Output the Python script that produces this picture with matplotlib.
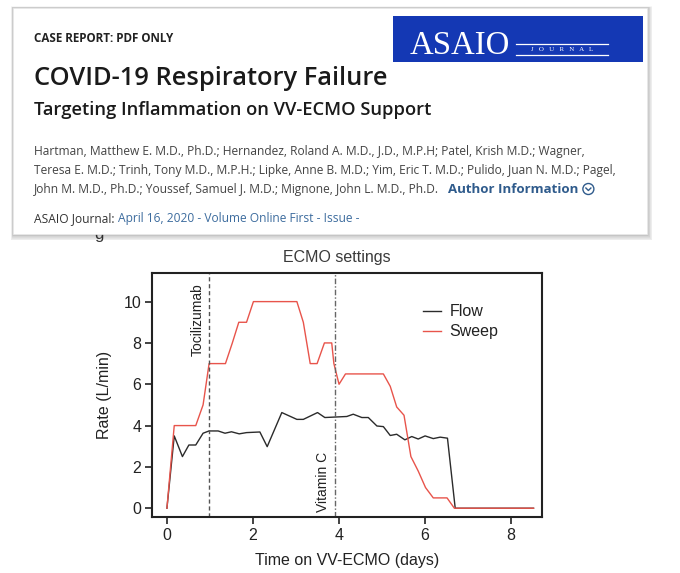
import matplotlib.pyplot as plt
from matplotlib.patches import Rectangle, Circle

# ECMO settings
flow_t = [0, 0.17, 0.36, 0.51, 0.67, 0.84, 0.98, 1.19, 1.35, 1.50, 1.68, 1.85, 2.16,
          2.33, 2.67, 3.02, 3.17, 3.50, 3.67, 4.18, 4.33, 4.53, 4.68, 4.88, 5.03,
          5.19, 5.34, 5.53, 5.69, 5.84, 6.00, 6.19, 6.35, 6.52, 6.70, 8.52]
flow_v = [0, 3.5, 2.5, 3.06, 3.06, 3.63, 3.74, 3.74, 3.63, 3.70, 3.60, 3.66, 3.69,
          2.98, 4.63, 4.30, 4.30, 4.63, 4.39, 4.44, 4.55, 4.39, 4.39, 3.98, 3.95,
          3.52, 3.58, 3.31, 3.47, 3.35, 3.50, 3.37, 3.44, 3.39, 0, 0]

sweep_t = [0, 0.17, 0.67, 0.84, 0.98, 1.36, 1.52, 1.67, 1.85, 2.01, 3.02, 3.17, 3.33,
           3.49, 3.66, 3.83, 3.88, 4.00, 4.15, 5.03, 5.19, 5.34, 5.51, 5.67, 5.84,
           6.01, 6.19, 6.51, 6.68, 8.52]
sweep_v = [0, 4, 4, 5, 7, 7, 8, 9, 9, 10, 10, 9, 7,
           7, 8, 8, 7, 6, 6.5, 6.5, 5.9, 4.9, 4.5, 2.5, 1.8,
           1.0, 0.5, 0.5, 0, 0]

events = ['Tocilizumab', 'Vitamin C']
event_t = [0.98, 3.91]

x_ticks = [0, 2, 4, 6, 8]
y_ticks = [0, 2, 4, 6, 8, 10]

# header card text
kicker = 'CASE REPORT: PDF ONLY'
title = 'COVID-19 Respiratory Failure'
subtitle = 'Targeting Inflammation on VV-ECMO Support'
authors = ['Hartman, Matthew E. M.D., Ph.D.; Hernandez, Roland A. M.D., J.D., M.P.H; Patel, Krish M.D.; Wagner,',
           'Teresa E. M.D.; Trinh, Tony M.D., M.P.H.; Lipke, Anne B. M.D.; Yim, Eric T. M.D.; Pulido, Juan N. M.D.; Pagel,',
           'John M. M.D., Ph.D.; Youssef, Samuel J. M.D.; Mignone, John L. M.D., Ph.D.']

W, H = 680, 573
fig = plt.figure(figsize=(W / 100, H / 100), dpi=100)
fig.patch.set_facecolor('white')

## chart
cfont = 'Liberation Sans'
ax = fig.add_axes([152.3 / W, 1 - 516.7 / H, 389.4 / W, 243.4 / H], zorder=1)
ax.plot(flow_t, flow_v, color='#2b2b2b', lw=1.0, label='Flow')
ax.plot(sweep_t, sweep_v, color='#e8544b', lw=1.0, label='Sweep')
ax.axvline(event_t[0], color='#555555', lw=1.0, ls=(0, (3, 2)))
ax.axvline(event_t[1], color='#666666', lw=1.0, ls=(0, (4, 1.5, 1, 1.5)))
ax.text(0.72, 10.9, events[0], rotation=90, ha='center', va='top', fontsize=10,
        family=cfont, color='#222222')
ax.text(3.63, 2.72, events[1], rotation=90, ha='center', va='top', fontsize=10,
        family=cfont, color='#222222')

ax.set_xlim(-0.34, 8.71)
ax.set_ylim(-0.41, 11.37)
ax.set_xticks(x_ticks)
ax.set_yticks(y_ticks)
for s in ax.spines.values():
    s.set_linewidth(1.5)
    s.set_color('#222222')
ax.tick_params(direction='out', length=5, width=1.2, color='#222222', labelsize=11.5,
               labelcolor='#222222', pad=3)
for lab in ax.get_xticklabels() + ax.get_yticklabels():
    lab.set_family(cfont)
ax.set_xlabel('Time on VV-ECMO (days)', fontsize=11.5, family=cfont, color='#222222', labelpad=7)
ax.set_ylabel('Rate (L/min)', fontsize=11.5, family=cfont, color='#222222', labelpad=8)
fig.text(337 / W, 1 - 258 / H, 'ECMO settings', ha='center', va='center', fontsize=11.5,
         family=cfont, color='#3a3a3a')
leg = ax.legend(loc='upper left', bbox_to_anchor=(0.695, 0.872), frameon=False,
                prop={'family': cfont, 'size': 11.5}, handlelength=1.1, handletextpad=0.55,
                borderaxespad=0, borderpad=0, labelspacing=0.3)
for t in leg.get_texts():
    t.set_color('#222222')

## header card drawn on a pixel-coordinate overlay
ov = fig.add_axes([0, 0, 1, 1], zorder=5)
ov.set_xlim(0, W)
ov.set_ylim(H, 0)
ov.axis('off')
ov.patch.set_alpha(0)

# bit of the figure text that peeks out under the card
ov.text(99, 238.5, 'g', fontsize=12, family=cfont, color='#333333', ha='center', va='baseline', zorder=1)

# soft shadow, heavier along the bottom
for i in range(8):
    d = 8 - i
    ov.add_patch(Rectangle((13 - d * 0.25, 8 - d * 0.2), 634 + d * 0.9, 226 + d * 1.0,
                           facecolor='#303030', edgecolor='none', alpha=0.045, zorder=2))
ov.add_patch(Rectangle((13, 8), 634, 226, facecolor='white', edgecolor='#ececec', lw=0.5, zorder=3))

hfont = 'Open Sans'
renderer = fig.canvas.get_renderer()


def fit(txt, target_w):
    # scale the font so the line spans the same width as in the screenshot
    w = txt.get_window_extent(renderer).width
    txt.set_fontsize(txt.get_fontsize() * target_w / w)
    return txt


def right_end(txt):
    return txt.get_window_extent(renderer).x1


fit(ov.text(34, 42, kicker, fontsize=8, weight='bold', family=hfont, color='#222222', zorder=4), 141)
fit(ov.text(34, 85, title, fontsize=18, weight='semibold', family=hfont, color='#1a1a1a', zorder=4), 354)
fit(ov.text(34, 115, subtitle, fontsize=12, weight='semibold', family=hfont, color='#1a1a1a', zorder=4), 398)

a1 = fit(ov.text(34, 155, authors[0], fontsize=8, family=hfont, color='#444444', zorder=4), 558)
afs = a1.get_fontsize()
ov.text(34, 174, authors[1], fontsize=afs, family=hfont, color='#444444', zorder=4)
a3 = ov.text(34, 193, authors[2], fontsize=afs, family=hfont, color='#444444', zorder=4)
x3 = right_end(a3) + 9
ai = ov.text(x3, 193, 'Author Information', fontsize=afs * 1.1, weight='bold', family=hfont,
             color='#2f5b8c', zorder=4)
xc = right_end(ai) + 10
ov.add_patch(Circle((xc, 189), 5.5, facecolor='none', edgecolor='#2f5b8c', lw=1.0, zorder=4))
ov.plot([xc - 2.5, xc, xc + 2.5], [188, 190.5, 188], color='#2f5b8c', lw=1.0, zorder=4)

j1 = ov.text(34, 222, 'ASAIO Journal: ', fontsize=afs, family=hfont, color='#333333', zorder=4)
ov.text(right_end(j1), 222, 'April 16, 2020 - Volume Online First - Issue -', fontsize=afs,
        family=hfont, color='#3d6c9e', zorder=4)

# journal logo
ov.add_patch(Rectangle((393, 16), 250, 46, facecolor='#1438b4', edgecolor='none', zorder=4))
fit(ov.text(410, 54, 'ASAIO', fontsize=26, family='Liberation Serif', color='white', zorder=5), 100)
ov.plot([516, 608], [43.5, 43.5], color='white', lw=0.9, zorder=5)
ov.plot([516, 608], [54.5, 54.5], color='white', lw=0.9, zorder=5)
ov.text(562, 49.3, 'J   O   U   R   N   A   L', fontsize=5, family='Liberation Serif', color='white',
        ha='center', va='center', zorder=5)

fig.savefig('out.png', dpi=100, facecolor='white')
